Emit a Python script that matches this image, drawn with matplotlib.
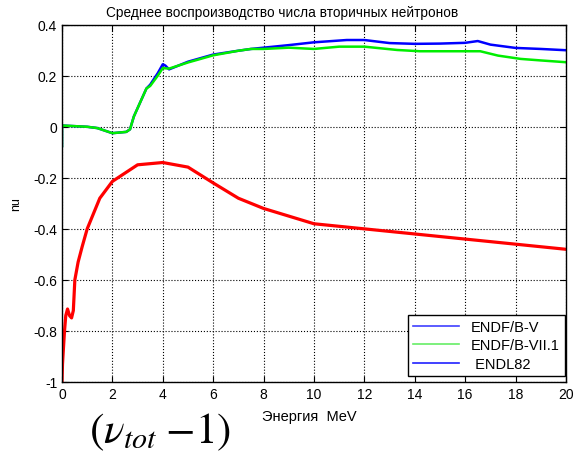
"""
Среднее воспроизводство числа вторичных нейтронов (nu_tot - 1)
"""
import matplotlib.pyplot as plt
from matplotlib.lines import Line2D

plt.switch_backend('Agg')
plt.rcParams['font.family'] = ['Liberation Sans', 'DejaVu Sans']
plt.rcParams['mathtext.fontset'] = 'stix'

# ENDF/B-V (синяя)
e_blue = [0.0, 0.0, 1.0, 1.4, 2.0, 2.55, 2.7, 2.85, 3.35, 3.5, 3.8, 4.0, 4.1, 4.25,
          5.0, 6.0, 7.0, 7.5, 8.0, 9.0, 10.0, 11.3, 12.0, 13.0, 14.0, 15.0, 16.0,
          16.5, 17.0, 18.0, 19.0, 20.0]
nu_blue = [-0.076, 0.005, 0.0, -0.005, -0.025, -0.02, -0.01, 0.04, 0.15, 0.165, 0.21,
           0.245, 0.24, 0.225, 0.255, 0.283, 0.298, 0.305, 0.31, 0.32, 0.331, 0.34,
           0.34, 0.328, 0.325, 0.326, 0.329, 0.336, 0.322, 0.309, 0.305, 0.30]

# ENDF/B-VII.1 (зелёная)
e_green = [0.0, 0.0, 1.0, 1.4, 2.0, 2.55, 2.7, 2.85, 3.35, 3.5, 3.8, 4.0, 4.25,
           5.0, 6.0, 7.0, 7.5, 8.0, 9.0, 10.0, 11.0, 12.0, 13.3, 14.2, 15.0, 16.0,
           16.6, 17.3, 18.2, 19.0, 20.0]
nu_green = [-0.076, 0.005, 0.0, -0.005, -0.025, -0.02, -0.01, 0.04, 0.15, 0.16, 0.2,
            0.23, 0.228, 0.252, 0.28, 0.298, 0.305, 0.305, 0.31, 0.305, 0.314, 0.314,
            0.301, 0.296, 0.296, 0.296, 0.296, 0.279, 0.266, 0.26, 0.253]

# Красная кривая
e_red = [0.0, 0.02, 0.05, 0.1, 0.15, 0.22, 0.3, 0.38, 0.45, 0.51, 0.64, 0.8, 1.0,
         1.5, 2.0, 3.0, 4.0, 5.0, 6.0, 7.0, 8.0, 10.0, 12.0, 14.0, 16.0, 18.0, 20.0]
nu_red = [-1.0, -0.93, -0.88, -0.80, -0.74, -0.714, -0.74, -0.749, -0.72, -0.60,
          -0.53, -0.47, -0.40, -0.28, -0.214, -0.149, -0.14, -0.158, -0.22, -0.28,
          -0.32, -0.38, -0.40, -0.42, -0.44, -0.46, -0.48]

x_ticks = [0, 2, 4, 6, 8, 10, 12, 14, 16, 18, 20]
y_ticks = [-1, -0.8, -0.6, -0.4, -0.2, 0, 0.2, 0.4]
y_labels = ['-1', '-0.8', '-0.6', '-0.4', '-0.2', '0', '0.2', '0.4']
legend_labels = ['ENDF/B-V', 'ENDF/B-VII.1', ' ENDL82']

fig = plt.figure(figsize=(5.74, 4.64), dpi=100)
ax = fig.add_axes([0.108, 0.1746, 0.878, 0.77])

ax.plot(e_red, nu_red, color='red', linewidth=2.3)
ax.plot(e_blue, nu_blue, color='blue', linewidth=1.8)
ax.plot(e_green, nu_green, color='#00ee00', linewidth=1.8)

ax.set_xlim(0, 20)
ax.set_ylim(-1, 0.4)
ax.set_xticks(x_ticks)
ax.set_yticks(y_ticks)
ax.set_yticklabels(y_labels)
ax.tick_params(direction='in', labelsize=10, length=4, top=True, right=True)
ax.grid(True, color='black', linestyle=':', linewidth=0.8)
for s in ax.spines.values():
    s.set_linewidth(1.0)

# заголовок смещён влево, как в оригинале
ax.set_title('Среднее воспроизводство числа вторичных нейтронов',
             fontsize=9.8, pad=6, x=0.437)
ax.set_xlabel('Энергия  MeV', fontsize=10.5, labelpad=0)
ax.xaxis.set_label_coords(0.49, -0.075)
ax.set_ylabel('nu', fontsize=9)
ax.yaxis.set_label_coords(-0.08, 0.5)

# Легенда: синяя, зелёная, синяя
handles = [Line2D([], [], color='#4040ff', linewidth=1.2),
           Line2D([], [], color='#66ee66', linewidth=1.2),
           Line2D([], [], color='#2020ff', linewidth=1.2)]
leg = ax.legend(handles, legend_labels, loc='lower right', fontsize=10.5,
                bbox_to_anchor=(0.998, 0.017), borderaxespad=0,
                fancybox=False, framealpha=1, edgecolor='black',
                handlelength=3.2, labelspacing=0.3, borderpad=0.35)
leg.get_frame().set_linewidth(1.0)

fig.text(0.155, 0.068, r'$(\nu_{tot}\;{-}1)$', fontsize=31, ha='left', va='center')

fig.savefig('out.png', dpi=100)
plt.close(fig)
